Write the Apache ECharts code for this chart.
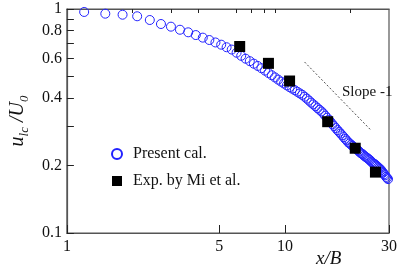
<!DOCTYPE html>
<html>
<head>
<meta charset="utf-8">
<script src="https://cdn.jsdelivr.net/npm/echarts@6/dist/echarts.min.js"></script>
<style>
  html, body { margin: 0; padding: 0; background: #fff; }
  #show { width: 400px; height: 269px; }
</style>
</head>
<body>
<div id="show"></div>
<script>
var myChart = echarts.init(document.getElementById("show"));

// present calculation, x/B
var xCal = [1.2, 1.5, 1.8, 2.1, 2.4, 2.7, 3.0, 3.3, 3.6, 3.9, 4.2, 4.5, 4.8, 5.1, 5.4, 5.7,
    6.0, 6.3, 6.6, 6.9, 7.2, 7.5, 7.8, 8.1, 8.4, 8.7, 9.0, 9.3, 9.6, 9.9, 10.2, 10.5,
    10.8, 11.1, 11.4, 11.7, 12.0, 12.3, 12.6, 12.9, 13.2, 13.5, 13.8, 14.1, 14.4, 14.7,
    15.0, 15.3, 15.6, 15.9, 16.2, 16.5, 16.8, 17.1, 17.4, 17.7, 18.0, 18.3, 18.6, 18.9,
    19.2, 19.5, 19.8, 20.1, 20.4, 20.7, 21.0, 21.3, 21.6, 21.9, 22.2, 22.5, 22.8, 23.1,
    23.4, 23.7, 24.0, 24.3, 24.6, 24.9, 25.2, 25.5, 25.8, 26.1, 26.4, 26.7, 27.0, 27.3,
    27.6, 27.9, 28.2, 28.5, 28.8, 29.1, 29.4, 29.7];
// present calculation, u_lc/U_0
var yCal = [0.970, 0.953, 0.943, 0.928, 0.893, 0.857, 0.834, 0.808, 0.787, 0.765, 0.745, 0.727, 0.709, 0.693, 0.675, 0.659,
    0.638, 0.618, 0.600, 0.585, 0.570, 0.557, 0.544, 0.531, 0.518, 0.506, 0.495, 0.484, 0.474, 0.465, 0.456, 0.448,
    0.441, 0.434, 0.427, 0.420, 0.414, 0.406, 0.398, 0.390, 0.382, 0.375, 0.368, 0.361, 0.355, 0.349,
    0.342, 0.334, 0.327, 0.320, 0.313, 0.306, 0.300, 0.294, 0.288, 0.283, 0.278, 0.273, 0.268, 0.263,
    0.259, 0.254, 0.251, 0.248, 0.245, 0.242, 0.239, 0.237, 0.234, 0.231, 0.228, 0.226, 0.224, 0.221,
    0.219, 0.217, 0.215, 0.213, 0.211, 0.208, 0.206, 0.204, 0.203, 0.201, 0.199, 0.197, 0.195, 0.193,
    0.191, 0.188, 0.186, 0.183, 0.181, 0.178, 0.176, 0.174];

// experiment by Mi et al.
var xExp = [6.2, 8.4, 10.5, 15.7, 21.0, 26.0];
var yExp = [0.680, 0.572, 0.477, 0.314, 0.239, 0.187];

// slope -1 guide
var xSlope = [12.3, 24.6];
var ySlope = [0.58, 0.29];

var xMajor = [1, 5, 10, 30];
var xMinor = [2, 3, 4, 6, 7, 8, 9, 20];
var yTicks = [0.1, 0.2, 0.3, 0.4, 0.5, 0.6, 0.7, 0.8, 0.9, 1];
var yLabels = [0.1, 0.2, 0.4, 0.6, 0.8, 1];

function zip(xs, ys) {
    return xs.map(function (x, i) { return [x, ys[i]]; });
}

var serif = 'Liberation Serif';
var axisColor = '#555';

function xAx(ticks, len, labels) {
    return {
        type: 'log', logBase: 10, min: 1, max: 30,
        axisLine: {show: true, lineStyle: {color: axisColor, width: 1.2}},
        axisTick: {show: true, inside: true, length: len, customValues: ticks,
            lineStyle: {color: '#222', width: 1}},
        axisLabel: {show: !!labels, customValues: labels || [], margin: 6,
            color: '#111', fontFamily: serif, fontSize: 16},
        splitLine: {show: false},
        minorTick: {show: false}
    };
}

myChart.setOption(option = {
    animation: false,
    grid: {left: 54, right: 10, top: 9, bottom: 36, show: true,
        borderColor: axisColor, borderWidth: 1.2},
    title: [{
        text: 'x/B', left: 311, top: 244,
        textStyle: {fontFamily: serif, fontStyle: 'italic', fontWeight: 'normal', fontSize: 19, color: '#111'}
    }, {
        text: 'Slope -1', left: 337, top: 80,
        textStyle: {fontFamily: serif, fontWeight: 'normal', fontSize: 15, color: '#111'}
    }],
    legend: {
        orient: 'vertical', left: 106, top: 141, itemGap: 11,
        itemWidth: 10, itemHeight: 10,
        data: ['Present cal.', 'Exp. by Mi et al.'],
        textStyle: {fontFamily: serif, fontSize: 16, color: '#111', padding: [0, 0, 0, 6]}
    },
    xAxis: [xAx(xMajor, 8, xMajor), xAx(xMinor, 4, null)],
    yAxis: {
        type: 'log', logBase: 10, min: 0.1, max: 1,
        name: '{i|u}{s|lc}{i| /U}{s|0}',
        nameLocation: 'middle', nameGap: 27, nameRotate: 90,
        nameTextStyle: {
            rich: {
                i: {fontFamily: serif, fontStyle: 'italic', fontSize: 20, color: '#111', lineHeight: 26, verticalAlign: 'middle'},
                s: {fontFamily: serif, fontStyle: 'italic', fontSize: 13, color: '#111', lineHeight: 26, verticalAlign: 'bottom', padding: [8, 0, 0, 0]}
            }
        },
        axisLine: {show: true, lineStyle: {color: axisColor, width: 1.2}},
        axisTick: {show: true, inside: true, length: 7, customValues: yTicks,
            lineStyle: {color: '#222', width: 1}},
        axisLabel: {customValues: yLabels, margin: 5, color: '#111', fontFamily: serif, fontSize: 16},
        splitLine: {show: false},
        minorTick: {show: false}
    },
    series: [
        {
            name: 'Present cal.', type: 'scatter',
            data: zip(xCal, yCal),
            symbol: 'circle', symbolSize: 9,
            itemStyle: {color: 'rgba(255,255,255,0)', borderColor: '#2222ff', borderWidth: 1, opacity: 1}
        },
        {
            name: 'Exp. by Mi et al.', type: 'scatter',
            data: zip(xExp, yExp),
            symbol: 'rect', symbolSize: 11,
            itemStyle: {color: '#000', opacity: 1}
        },
        {
            name: 'slope', type: 'line',
            data: zip(xSlope, ySlope),
            symbol: 'none',
            lineStyle: {color: '#222', width: 0.8, type: [2, 2]}
        }
    ]
});
</script>
</body>
</html>
